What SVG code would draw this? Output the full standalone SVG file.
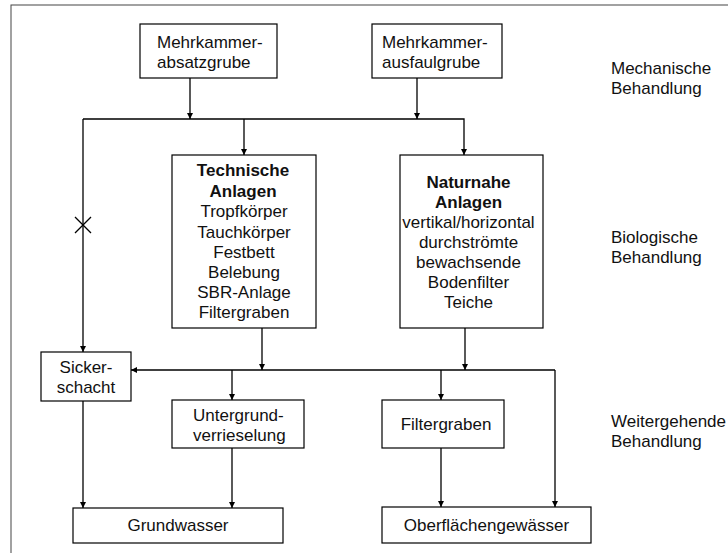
<svg xmlns="http://www.w3.org/2000/svg" width="728" height="553" viewBox="0 0 728 553">
<style>
  .box { fill: #fff; stroke: #000; stroke-width: 1.2; }
  .t { font-family: "Liberation Sans", Arial, sans-serif; font-size: 17px; fill: #111; }
  .c { text-anchor: middle; }
  .b { font-weight: bold; }
  .ln { fill: none; stroke: #000; stroke-width: 1.3; }
  .arr { marker-end: url(#ah); }
</style>
<defs>
  <marker id="ah" markerUnits="userSpaceOnUse" markerWidth="8" markerHeight="8" refX="6" refY="3" orient="auto">
    <path d="M0,0 L6,3 L0,6 Z" fill="#000"/>
  </marker>
</defs>
<rect x="0" y="0" width="728" height="553" fill="#fff"/>
<rect x="11" y="5" width="730" height="560" fill="none" stroke="#444" stroke-width="1"/>

<g id="connectors">
  <path class="ln arr" d="M190,78 V119"/>
  <path class="ln arr" d="M417,78 V119"/>
  <path class="ln arr" d="M83,119 H464 V155"/>
  <path class="ln arr" d="M83,119 V352"/>
  <path class="ln arr" d="M244,119 V155"/>
  <path class="ln" d="M75,217 L91,233 M75,233 L91,217"/>
  <path class="ln arr" d="M262,328 V370"/>
  <path class="ln arr" d="M465,328 V370"/>
  <path class="ln arr" d="M555,370 H131"/>
  <path class="ln arr" d="M555,370 V507"/>
  <path class="ln arr" d="M232,370 V400"/>
  <path class="ln arr" d="M232,448 V508"/>
  <path class="ln arr" d="M441,370 V400"/>
  <path class="ln arr" d="M441,448 V507"/>
  <path class="ln arr" d="M83,401 V508"/>
</g>

<g id="absatzgrube">
  <rect class="box" x="140" y="24" width="137" height="54"/>
  <text class="t" x="157" y="48">Mehrkammer-</text>
  <text class="t" x="157" y="68">absatzgrube</text>
</g>
<g id="ausfaulgrube">
  <rect class="box" x="372" y="24" width="130" height="54"/>
  <text class="t" x="382" y="48">Mehrkammer-</text>
  <text class="t" x="382" y="68">ausfaulgrube</text>
</g>
<g id="technische">
  <rect class="box" x="172" y="155" width="144" height="173"/>
  <text class="t c b" x="243" y="176">Technische</text>
  <text class="t c b" x="243" y="197">Anlagen</text>
  <text class="t c" x="244" y="217">Tropfkörper</text>
  <text class="t c" x="244" y="238">Tauchkörper</text>
  <text class="t c" x="244" y="258">Festbett</text>
  <text class="t c" x="244" y="278">Belebung</text>
  <text class="t c" x="244" y="298">SBR-Anlage</text>
  <text class="t c" x="244" y="318">Filtergraben</text>
</g>
<g id="naturnahe">
  <rect class="box" x="400" y="155" width="143" height="173"/>
  <text class="t c b" x="468.5" y="188">Naturnahe</text>
  <text class="t c b" x="468.5" y="208">Anlagen</text>
  <text class="t c" x="468.5" y="228">vertikal/horizontal</text>
  <text class="t c" x="468.5" y="248">durchströmte</text>
  <text class="t c" x="468.5" y="268">bewachsende</text>
  <text class="t c" x="468.5" y="288">Bodenfilter</text>
  <text class="t c" x="468.5" y="308">Teiche</text>
</g>
<g id="sickerschacht">
  <rect class="box" x="41" y="352" width="90" height="49"/>
  <text class="t c" x="86" y="373">Sicker-</text>
  <text class="t c" x="86" y="393">schacht</text>
</g>
<g id="untergrund">
  <rect class="box" x="172" y="400" width="132" height="48"/>
  <text class="t" x="193" y="421">Untergrund-</text>
  <text class="t" x="193" y="441">verrieselung</text>
</g>
<g id="filtergraben">
  <rect class="box" x="382" y="400" width="122" height="48"/>
  <text class="t c" x="446" y="430">Filtergraben</text>
</g>
<g id="grundwasser">
  <rect class="box" x="73" y="508" width="210" height="35"/>
  <text class="t c" x="178" y="531">Grundwasser</text>
</g>
<g id="oberflaechengewaesser">
  <rect class="box" x="382" y="507" width="209" height="36"/>
  <text class="t c" x="486.5" y="531">Oberflächengewässer</text>
</g>
<g id="labels">
  <text class="t" x="611" y="74">Mechanische</text>
  <text class="t" x="611" y="94">Behandlung</text>
  <text class="t" x="611" y="243">Biologische</text>
  <text class="t" x="611" y="263">Behandlung</text>
  <text class="t" x="611" y="427">Weitergehende</text>
  <text class="t" x="611" y="447">Behandlung</text>
</g>
</svg>
